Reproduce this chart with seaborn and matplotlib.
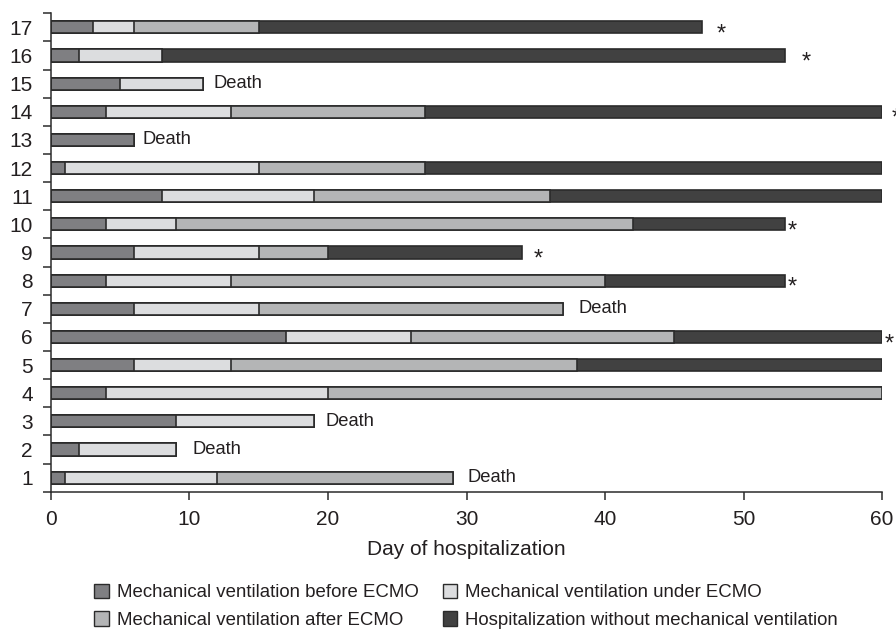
import matplotlib
matplotlib.use("Agg")
import matplotlib.pyplot as plt
from matplotlib.patches import Patch
from matplotlib.ticker import FixedLocator
import numpy as np
import pandas as pd
import seaborn as sns

# ---- data (days) ----
patients = [str(i) for i in range(1, 18)]
mv_before_ecmo = [1, 2, 9, 4, 6, 17, 6, 4, 6, 4, 8, 1, 6, 4, 5, 2, 3]
mv_under_ecmo = [11, 7, 10, 16, 7, 9, 9, 9, 9, 5, 11, 14, 0, 9, 6, 6, 3]
mv_after_ecmo = [17, 0, 0, 40, 25, 19, 22, 27, 5, 33, 17, 12, 0, 14, 0, 0, 9]
hosp_without_mv = [0, 0, 0, 0, 22, 15, 0, 13, 14, 11, 24, 33, 0, 33, 0, 45, 32]
outcome = ["Death", "Death", "Death", "", "", "*", "Death", "*", "*", "*",
           "", "", "Death", "*", "Death", "*", "*"]
series_names = ["Mechanical ventilation before ECMO",
                "Mechanical ventilation under ECMO",
                "Mechanical ventilation after ECMO",
                "Hospitalization without mechanical ventilation"]
x_ticks = [0, 10, 20, 30, 40, 50, 60]
x_label = "Day of hospitalization"

# ---- styling ----
colors = ["#7f7f82", "#dcdddf", "#b4b5b6", "#414141"]
edge = "#2b2b2b"
text_color = "#231f20"
# label gaps (days) after bar end, per patient
label_gap = {1: 1.1, 2: 1.2, 3: 0.8, 7: 1.1, 13: 0.6, 15: 0.7,
             6: 0.5, 8: 0.5, 9: 1.2, 10: 0.5, 14: 1.0, 16: 1.5, 17: 1.4}

sns.set_style("ticks")
plt.rcParams["font.family"] = ["Liberation Sans", "DejaVu Sans"]

df = pd.DataFrame({
    "patient": patients,
    "s1": mv_before_ecmo,
    "s2": mv_under_ecmo,
    "s3": mv_after_ecmo,
    "s4": hosp_without_mv,
})
cols = ["s1", "s2", "s3", "s4"]
cum = df[cols].cumsum(axis=1)
order = patients[::-1]

fig = plt.figure(figsize=(8.96, 6.32), dpi=100)
ax = fig.add_axes([0.0569, 0.222, 0.9275, 0.757])

# draw cumulative bars from longest to shortest
for i in range(3, -1, -1):
    d = pd.DataFrame({"patient": df["patient"], "end": cum[cols[i]]})
    sns.barplot(data=d, x="end", y="patient", order=order, orient="h",
                color=colors[i], saturation=1, width=0.43,
                edgecolor=edge, linewidth=1.2, ax=ax, errorbar=None)

total = cum["s4"].values
pos = {p: k for k, p in enumerate(order)}
for j, p in enumerate(patients):
    lab = outcome[j]
    if not lab:
        continue
    y = pos[p]
    gap = label_gap.get(j + 1, 0.8)
    if lab == "Death":
        ax.text(total[j] + gap, y, lab, ha="left", va="center",
                fontsize=13.2, color=text_color, clip_on=False)
    else:
        ax.annotate(lab, (total[j] + gap, y), xytext=(0, -9.5),
                    textcoords="offset points", ha="center", va="baseline",
                    fontsize=17, color=text_color, annotation_clip=False)

ax.set_xlim(0, 60)
ax.set_ylim(16.5, -0.5)
ax.set_xticks(x_ticks)
ax.set_xlabel(x_label, fontsize=15, color=text_color, labelpad=8)
ax.set_ylabel("")
ax.yaxis.set_minor_locator(FixedLocator(np.arange(-0.5, 17, 1.0)))
ax.tick_params(axis="y", which="major", length=0, pad=13, labelsize=15,
               labelcolor=text_color)
ax.tick_params(axis="y", which="minor", length=6, width=1.1, color=edge)
ax.tick_params(axis="x", which="major", length=6, width=1.1, color=edge,
               pad=7, labelsize=15, labelcolor=text_color)
for s in ["top", "right"]:
    ax.spines[s].set_visible(False)
for s in ["left", "bottom"]:
    ax.spines[s].set_color(edge)
    ax.spines[s].set_linewidth(1.1)

handles = [Patch(facecolor=colors[k], edgecolor=edge, linewidth=1.0,
                 label=series_names[k]) for k in [0, 2, 1, 3]]
fig.legend(handles=handles, ncol=2, loc="upper center",
           bbox_to_anchor=(0.52, 0.103), frameon=False, fontsize=13.4,
           handlelength=0.8, handleheight=0.8, handletextpad=0.4,
           columnspacing=1.3, labelspacing=0.55, labelcolor=text_color)

fig.savefig("out.png", dpi=100)
